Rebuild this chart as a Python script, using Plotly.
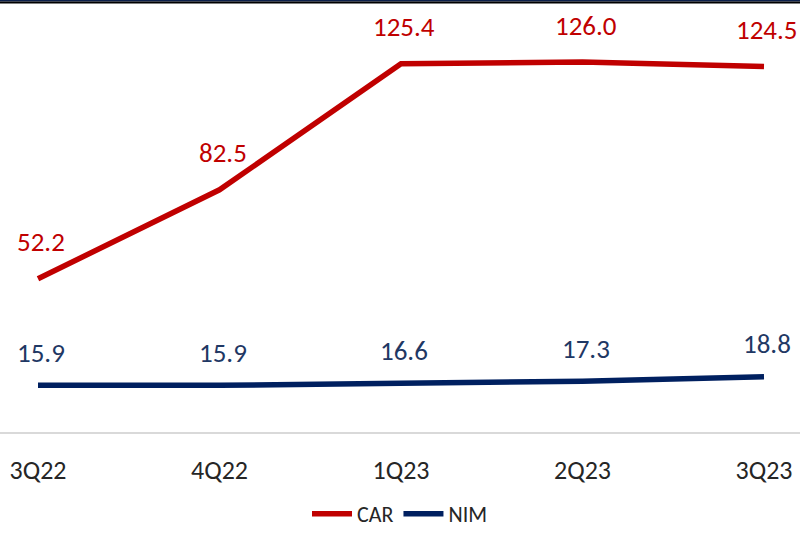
import plotly.graph_objects as go

quarters = ["3Q22", "4Q22", "1Q23", "2Q23", "3Q23"]
car = [52.2, 82.5, 125.4, 126.0, 124.5]
nim = [15.9, 15.9, 16.6, 17.3, 18.8]

CAR_COLOR = "#C00000"
NIM_COLOR = "#002060"
FONT = "Carlito, Calibri, 'Liberation Sans Narrow', 'Liberation Sans', Arial, sans-serif"

xs = list(range(len(quarters)))

fig = go.Figure()
fig.add_trace(go.Scatter(x=xs, y=car, mode="lines", name="CAR",
                         line=dict(color=CAR_COLOR, width=5.5)))
fig.add_trace(go.Scatter(x=xs, y=nim, mode="lines", name="NIM",
                         line=dict(color=NIM_COLOR, width=5.5)))

annotations = []
for x, v in zip(xs, car):
    annotations.append(dict(x=x, y=v, text=f"{v:.1f}", showarrow=False, xshift=3, yshift=37,
                            font=dict(family=FONT, size=27, color=CAR_COLOR)))
for x, v in zip(xs, nim):
    annotations.append(dict(x=x, y=v, text=f"{v:.1f}", showarrow=False, xshift=3, yshift=33,
                            font=dict(family=FONT, size=27, color="#1F3864")))

H = 411.0
shapes = [
    dict(type="rect", xref="paper", yref="paper", x0=0, x1=1, y0=430.5 / H, y1=433 / H,
         fillcolor="#0B1F4B", line=dict(width=0), layer="above"),
    dict(type="rect", xref="paper", yref="paper", x0=0, x1=1, y0=428.5 / H, y1=430.5 / H,
         fillcolor="#000000", line=dict(width=0), layer="above"),
]

fig.update_layout(
    width=800, height=535,
    margin=dict(l=0, r=0, t=21, b=103, autoexpand=False),
    paper_bgcolor="white", plot_bgcolor="white",
    showlegend=True,
    legend=dict(orientation="h", x=0.5, xanchor="center", xref="container",
                y=0, yanchor="bottom", yref="container",
                font=dict(family=FONT, size=22, color="#262626"),
                itemwidth=40, tracegroupgap=0),
    annotations=annotations,
    shapes=shapes,
    xaxis=dict(tickmode="array", tickvals=xs, ticktext=quarters,
               range=[-38 / 181.5, 4 + 36 / 181.5], automargin=False,
               showline=True, linecolor="#D9D9D9", linewidth=2,
               showgrid=False, zeroline=False,
               ticks="outside", ticklen=14, tickcolor="rgba(0,0,0,0)",
               tickfont=dict(family=FONT, size=26, color="#262626")),
    yaxis=dict(range=[0, 140], visible=False, showgrid=False, zeroline=False),
)

fig.write_html("out.html")
